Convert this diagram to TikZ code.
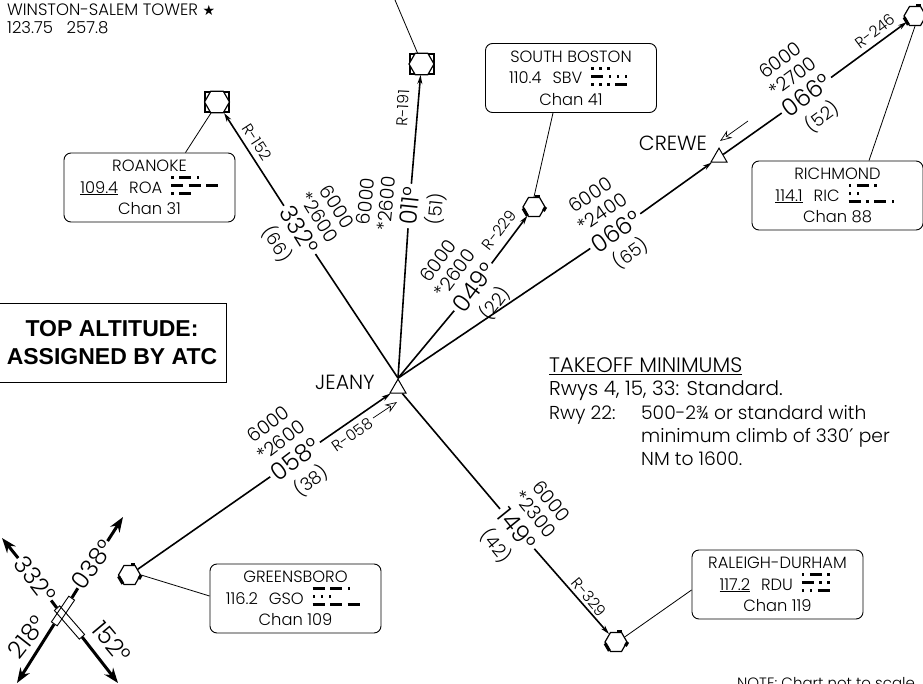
\documentclass[tikz,border=0pt]{standalone}
\usepackage{fontspec}
\setmainfont{Poppins}[UprightFont=* Light]
\newfontfamily\atcfont{Liberation Sans}
\newfontfamily\symfont{DejaVu Sans}
\usetikzlibrary{shapes.geometric,arrows.meta}
\newcommand{\dit}{\rule{2.5pt}{2.8pt}\kern5.5pt}
\newcommand{\dah}{\rule{12pt}{2.8pt}\kern5.5pt}
\newcommand{\morse}[3]{\raisebox{-2pt}[0pt][0pt]{\vbox{\offinterlineskip\hbox{#1}\kern5.2pt\hbox{#2}\kern5.2pt\hbox{#3}}}}
% navaid symbol, with and without the square round it
\newcommand{\navaid}[2]{
    \node[navhex] (#1) at (#2) {};
    \draw[navmark,shorten <=1.5pt,shorten >=1.5pt] (#1.corner 3) -- (#1.corner 4);
    \draw[navmark,shorten >=7pt] (#1.corner 1) -- (#1.corner 2);
    \draw[navmark,shorten >=7pt] (#1.corner 6) -- (#1.corner 5);
}
\newcommand{\navsquare}[2]{
    \node[navbox] (#1) at (#2) {};
    \node[navhex,minimum size=25pt] at (#2) {};
}
% four lines along a route
\newcommand{\legtext}[6]{
    \node[hdg,rotate=#3] (#1) at (#2) {#5};
    \node[alt,rotate=#3,anchor=south] (#1alt) at (#1.north) {#4};
    \node[dist,rotate=#3,anchor=north] (#1dist) at (#1.south) {#6};
}
\tikzset{
    navhex/.style={draw,line width=1.2pt,fill=white,shape=regular polygon,regular polygon sides=6,minimum size=22pt,inner sep=0pt},
    navmark/.style={line width=3.2pt},
    navbox/.style={draw,line width=2pt,minimum width=24pt,minimum height=20pt,inner sep=0pt},
    fix/.style={draw,line width=1pt,fill=white,shape=regular polygon,regular polygon sides=3,minimum size=18.5pt,inner sep=0pt},
    route/.style={line width=1.6pt},
    routetip/.style={route,-{Stealth[length=9pt,width=5pt]}},
    leader/.style={line width=0.8pt},
    course/.style={line width=0.7pt,-{Stealth[open,length=12pt,width=9pt]}},
    infobox/.style={draw,line width=0.9pt,rounded corners=7pt,minimum width=171pt,minimum height=69pt,inner sep=0pt,align=center,font=\fontsize{16.3}{21.5}\selectfont},
    hdg/.style={inner xsep=3pt,inner ysep=0pt,minimum height=32pt,font=\fontsize{24}{24}\selectfont},
    alt/.style={inner sep=0pt,align=center,font=\fontsize{19}{21}\selectfont},
    dist/.style={inner sep=0pt,font=\fontsize{18}{18}\selectfont},
    radial/.style={inner sep=0pt,font=\fontsize{15.5}{16}\selectfont},
    rwy/.style={draw,line width=0.9pt,minimum height=7pt,inner sep=0pt},
    rwyline/.style={line width=3pt},
    rwytip/.style={rwyline,-{Stealth[length=15pt,width=11pt]}},
    rwytext/.style={inner sep=1pt,font=\fontsize{24}{24}\selectfont},
    place/.style={inner sep=0pt,font=\fontsize{20.5}{20.5}\selectfont},
}
\begin{document}
\begin{tikzpicture}[x=1pt,y=-1pt]
    \useasboundingbox (0,0) rectangle (923,684);
    % tower
    \node[inner sep=0pt,anchor=north west,align=left,font=\fontsize{16.5}{18}\selectfont] (tower) at (7,3.5) {WINSTON-SALEM TOWER {\symfont\fontsize{14}{14}\selectfont ★}\\123.75\ \ \ 257.8};
    % fixes and navaids
    \node[fix] (jeany) at (398,388.4) {};
    \node[fix] (crewe) at (719,157.4) {};
    \navsquare{roa}{217,102}
    \navsquare{top}{421.5,64}
    \navaid{sbv}{534,207}
    \navaid{ric}{915,16}
    \navaid{gso}{129.5,575}
    \navaid{rdu}{616,642}
    \coordinate (offchart) at (395,0);
    \node[place] (jeanytext) at (345,382) {JEANY};
    \node[place] (crewetext) at (673,143) {CREWE};
    % info boxes
    \node[infobox] (roaBox) at (149.5,187.5) {ROANOKE\\\hspace{5pt}\underline{109.4}\hspace{11pt}ROA\ \ \morse{\dit\dah\dit}{\dah\dah\dah}{\dit\dah}\\Chan 31};
    \node[infobox] (sbvBox) at (571,78) {SOUTH BOSTON\\110.4\hspace{11pt}SBV\ \ \morse{\dit\dit\dit}{\dah\dit\dit\dit}{\dit\dit\dit\dah}\\Chan 41};
    \node[infobox] (ricBox) at (837.5,195.5) {RICHMOND\\\underline{114.1}\hspace{11pt}RIC\ \ \morse{\dit\dah\dit}{\dit\dit}{\dah\dit\dah\dit}\\Chan 88};
    \node[infobox] (gsoBox) at (295.5,598.5) {GREENSBORO\\116.2\hspace{11pt}GSO\ \ \morse{\dah\dah\dit}{\dit\dit\dit}{\dah\dah\dah}\\Chan 109};
    \node[infobox] (rduBox) at (777.5,584.5) {RALEIGH-DURHAM\\\underline{117.2}\hspace{11pt}RDU\ \ \morse{\dit\dah\dit}{\dah\dit\dit}{\dit\dit\dah}\\Chan 119};
    % leaders
    \draw[leader] ([xshift=-6pt]roa.south) -- ([xshift=36pt]roaBox.north);
    \draw[leader] ([xshift=-4pt]top.north) -- (offchart);
    \draw[leader] (sbv.north) -- ([xshift=-18pt]sbvBox.south);
    \draw[leader] (ric.south) -- ([xshift=31.5pt]ricBox.north);
    \draw[leader] (gso.east) -- ([yshift=2.5pt]gsoBox.west);
    \draw[leader] (rdu.30) -- ([yshift=-5.5pt]rduBox.west);
    % routes
    \legtext{hdga}{299.5,230}{-58}{6000\\*2600}{332°}{(66)}
    \legtext{hdgb}{409.5,206}{84}{6000\\*2600}{011°}{(51)}
    \legtext{hdgc}{473.5,287.5}{53}{6000\\*2600}{049°}{(22)}
    \legtext{hdgd}{615.5,231.5}{34.5}{6000\\*2400}{066°}{(65)}
    \legtext{hdge}{806.5,95.5}{36.5}{6000\\*2700}{066°}{(52)}
    \legtext{hdgf}{295,459.5}{37}{6000\\*2600}{058°}{(38)}
    \legtext{hdgg}{517,529}{-51}{6000\\*2300}{149°}{(42)}
    \draw[route] (jeany.corner 1) -- (hdga);
    \draw[routetip] (hdga) -- (roa);
    \draw[route] (jeany.corner 1) -- (hdgb);
    \draw[routetip] (hdgb) -- (top);
    \draw[route] (jeany.corner 1) -- (hdgc);
    \draw[routetip] (hdgc) -- (sbv);
    \draw[route] (jeany.corner 1) -- (hdgd);
    \draw[routetip] (hdgd) -- (crewe);
    \draw[route] (crewe) -- (hdge);
    \draw[routetip] (hdge) -- (ric);
    \draw[route] (gso) -- (hdgf);
    \draw[routetip] (hdgf) -- (jeany);
    \draw[route] (jeany) -- (hdgg);
    \draw[routetip] (hdgg) -- (rdu);
    % radials
    \foreach \x/\y/\a/\t [count=\i] in
    {257/142/-57/R-152,403/108/87/R-191,499/230/52/R-229,875/31/37/R-246,352/435/35/R-058,589/597/-50/R-329}{
        \node[radial,rotate=\a] (radial\i) at (\x,\y) {\t};
    }
    % course arrows
    \coordinate (cou1) at (748,121);
    \coordinate (cou2) at (720,141);
    \coordinate (cou3) at (373,418);
    \coordinate (cou4) at (397,402);
    \draw[course] (cou1) -- (cou2);
    \draw[course] (cou3) -- (cou4);
    % altitude box
    \node[draw,line width=0.9pt,minimum width=228pt,minimum height=79pt,inner sep=0pt,align=center,font=\atcfont\bfseries\fontsize{23}{28.5}\selectfont] (atc) at (112,342.5) {TOP ALTITUDE:\\ASSIGNED BY ATC};
    % takeoff text
    \node[inner sep=0pt,anchor=north west,align=left,font=\fontsize{18.7}{23.3}\selectfont] (takeoff) at (549,357.5) {{\fontsize{21}{23.3}\selectfont\underline{TAKEOFF MINIMUMS}}\\{\fontsize{20}{23.3}\selectfont Rwys 4, 15, 33: Standard.}\\\makebox[92pt][l]{Rwy 22:}500-2¾ or standard with\\\makebox[92pt][l]{}minimum climb of 330{\symfont ′} per\\\makebox[92pt][l]{}NM to 1600.};
    \node[inner sep=0pt,font=\fontsize{15}{15}\selectfont] (note) at (826,683) {NOTE: Chart not to scale};
    % runways
    \coordinate (tipa) at (123,517);
    \coordinate (tipb) at (2,538);
    \coordinate (tipc) at (17,683);
    \coordinate (tipd) at (118,683);
    \node[rwy,minimum width=31pt,rotate=56] (rwya) at (63,611) {};
    \node[rwy,minimum width=38pt,rotate=-49] (rwyb) at (69.5,622.5) {};
    \node[rwytext,rotate=54] (rwy38) at (92.5,564.5) {038°};
    \node[rwytext,rotate=-52] (rwy332) at (35,579) {332°};
    \node[rwytext,rotate=52] (rwy218) at (27,637) {218°};
    \node[rwytext,rotate=-50] (rwy152) at (112,642) {152°};
    \draw[rwyline] (rwya.east) -- (rwy38);
    \draw[rwytip] (rwy38) -- (tipa);
    \draw[rwyline] (rwyb.west) -- (rwy332);
    \draw[rwytip] (rwy332) -- (tipb);
    \draw[rwytip] (rwya.west) -- (tipc);
    \draw[rwytip] (rwyb.east) -- (tipd);
\end{tikzpicture}
\end{document}
